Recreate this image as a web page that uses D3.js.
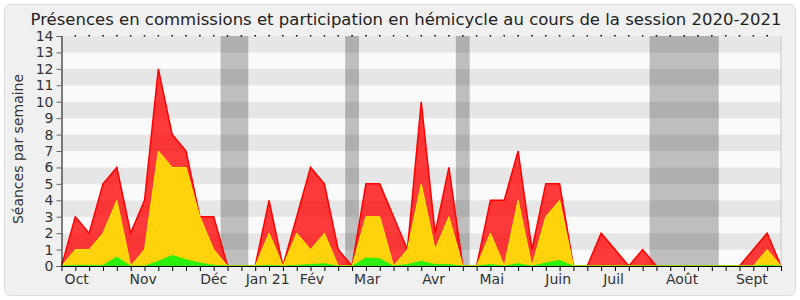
<!DOCTYPE html>
<html>
<head>
<meta charset="utf-8">
<script src="https://cdn.jsdelivr.net/npm/d3@7"></script>
<style>
  body { margin: 0; background: #ffffff; }
  svg { display: block; font-family: "DejaVu Sans", sans-serif; }
</style>
</head>
<body>
<div id="chart"></div>
<script>
// one value per week, session 2020-2021 (53 weeks)
const totalSeances = [0, 3, 2, 5, 6, 2, 4, 12, 8, 7, 3, 3, 0, 0, 0, 4, 0, 3, 6, 5, 1, 0, 5, 5, 3, 1, 10, 2, 6, 0, 0, 4, 4, 7, 1, 5, 5, 0, 0, 2, 1, 0, 1, 0, 0, 0, 0, 0, 0, 0, 1, 2, 0];
const commissions = [0, 1, 1, 2, 4, 0, 1, 7, 6, 6, 3, 1, 0, 0, 0, 2, 0, 2, 1, 2, 0, 0, 3, 3, 0, 1, 5, 1, 3, 0, 0, 2, 0, 4, 0, 3, 4, 0, 0, 0, 0, 0, 0, 0, 0, 0, 0, 0, 0, 0, 0, 1, 0];
const hemicycle = [0, 0.05, 0.05, 0.05, 0.55, 0, 0, 0.3, 0.65, 0.4, 0.2, 0.05, 0, 0, 0, 0.05, 0, 0.05, 0.1, 0.15, 0, 0, 0.5, 0.45, 0, 0.1, 0.3, 0.1, 0.1, 0, 0, 0.1, 0, 0.15, 0, 0.2, 0.35, 0, 0, 0, 0, 0, 0, 0, 0, 0, 0, 0, 0, 0, 0, 0.05, 0];

// holiday weeks (start, end as week index)
const vacances = [[11.5, 13.5], [20.5, 21.5], [28.5, 29.5], [42.5, 47.5]];

const monthLabels = ['Oct', 'Nov', 'Déc', 'Jan 21', 'Fév', 'Mar', 'Avr', 'Mai', 'Juin', 'Juil', 'Août', 'Sept'];
const monthWeeks = [1.1, 5.9, 11.0, 14.9, 18.1, 22.1, 26.9, 31.1, 35.9, 39.9, 44.85, 49.9];
const yTicks = d3.range(0, 15);

const width = 800, height = 300;
const x = d3.scaleLinear().domain([0, 52]).range([61.5, 781]);
const y = d3.scaleLinear().domain([0, 14]).range([266, 36]);

const svg = d3.select('#chart').append('svg')
  .attr('width', width)
  .attr('height', height);

svg.append('rect')
  .attr('x', 4.5).attr('y', 4.5)
  .attr('width', 791).attr('height', 291)
  .attr('rx', 6)
  .attr('fill', '#f0f0f0')
  .attr('stroke', '#dcdcdc');

svg.append('text')
  .attr('x', 406)
  .attr('y', 25)
  .attr('text-anchor', 'middle')
  .style('font-size', '16.5px')
  .attr('fill', '#222')
  .text('Présences en commissions et participation en hémicycle au cours de la session 2020-2021');

// striped background
svg.append('g').selectAll('rect')
  .data(yTicks.slice(0, 14))
  .enter().append('rect')
  .attr('x', x(0))
  .attr('width', x(52) - x(0))
  .attr('y', d => y(d + 1))
  .attr('height', d => y(d) - y(d + 1))
  .attr('fill', d => d % 2 === 0 ? '#fafafa' : '#e6e6e6');

svg.append('g').selectAll('rect')
  .data(vacances)
  .enter().append('rect')
  .attr('x', d => x(d[0]))
  .attr('width', d => x(d[1]) - x(d[0]))
  .attr('y', y(14))
  .attr('height', y(0) - y(14))
  .attr('fill', '#000')
  .attr('fill-opacity', 0.24);

const area = d3.area()
  .x((d, i) => x(i))
  .y0(y(0))
  .y1(d => y(d));

svg.append('path')
  .datum(totalSeances)
  .attr('d', area)
  .attr('fill', 'rgba(255,0,0,0.77)')
  .attr('stroke', '#ff0000')
  .attr('stroke-width', 1.5)
  .attr('stroke-linejoin', 'miter');

svg.append('path')
  .datum(commissions)
  .attr('d', area)
  .attr('fill', '#ffd20c')
  .attr('stroke', '#ffee00')
  .attr('stroke-width', 1);

svg.append('path')
  .datum(hemicycle)
  .attr('d', area)
  .attr('fill', '#2cf00f')
  .attr('stroke', '#22ee00')
  .attr('stroke-width', 0.5);

// right border of plot
svg.append('line')
  .attr('x1', x(52)).attr('x2', x(52))
  .attr('y1', y(14)).attr('y2', y(0))
  .attr('stroke', '#c8c8c8');

// top dots, one per week
svg.append('g').selectAll('rect')
  .data(d3.range(1, 52))
  .enter().append('rect')
  .attr('x', d => x(d) - 0.75)
  .attr('y', y(14) - 1)
  .attr('width', 1.5)
  .attr('height', 1.5)
  .attr('fill', '#000');

const yAxis = svg.append('g')
  .attr('transform', `translate(${x(0)},0)`)
  .call(d3.axisLeft(y).tickValues(yTicks).tickFormat(d3.format('d')).tickSize(5).tickPadding(3));
yAxis.select('.domain').attr('stroke', '#000');
yAxis.selectAll('.tick line').attr('stroke', '#666');
yAxis.selectAll('text')
  .style('font-size', '14px')
  .style('font-family', '"DejaVu Sans", sans-serif')
  .attr('fill', '#333');

const xAxis = svg.append('g')
  .attr('transform', `translate(0,${y(0)})`)
  .call(d3.axisBottom(x).tickValues(d3.range(0, 53)).tickFormat('').tickSize(5).tickSizeOuter(0));
xAxis.select('.domain').attr('stroke', '#000');
xAxis.selectAll('.tick line').attr('stroke', '#000');

svg.append('g').selectAll('text')
  .data(monthLabels)
  .enter().append('text')
  .attr('x', (d, i) => x(monthWeeks[i]))
  .attr('y', 284)
  .attr('text-anchor', 'middle')
  .style('font-size', '14px')
  .attr('fill', '#333')
  .text(d => d);

svg.append('text')
  .attr('transform', 'translate(23,149) rotate(-90)')
  .attr('text-anchor', 'middle')
  .style('font-size', '14px')
  .attr('fill', '#333')
  .text('Séances par semaine');
</script>
</body>
</html>
